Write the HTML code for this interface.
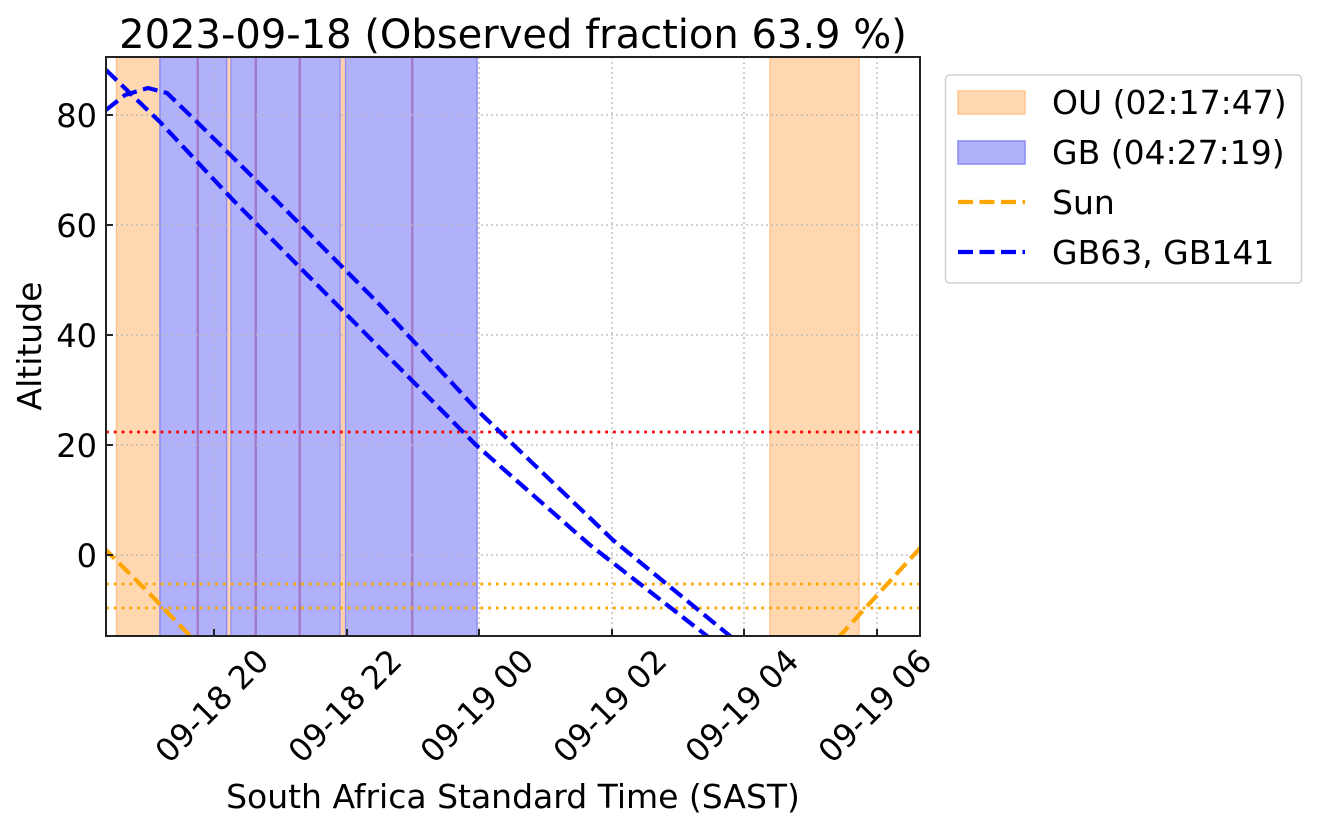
<!DOCTYPE html>
<html><head><meta charset="utf-8"><style>
html,body{margin:0;padding:0;background:#fff;}
svg{display:block;font-family:"DejaVu Sans","Liberation Sans",sans-serif;}
</style></head><body>
<svg width="1317" height="829" viewBox="0 0 1317 829" xmlns="http://www.w3.org/2000/svg">
<rect width="1317" height="829" fill="#fff"/>
<defs><clipPath id="c"><rect x="106" y="57" width="814" height="579"/></clipPath></defs>
<g clip-path="url(#c)">
<rect x="116.5" y="57" width="43.5" height="579" fill="#ffd7b0" stroke="#ffc58f" stroke-width="1.5"/>
<rect x="770" y="57" width="89" height="579" fill="#ffd7b0" stroke="#ffc58f" stroke-width="1.5"/>
<rect x="160" y="57" width="317" height="579" fill="#b1b1fb" stroke="#8a8af5" stroke-width="1.5"/>
<g fill="#ffd0b0">
<rect x="227.5" y="57" width="3" height="579"/>
<rect x="340.5" y="57" width="4.5" height="579"/>
</g>
<g fill="#a27cc8">
<rect x="196.5" y="57" width="2.5" height="579"/>
<rect x="254.5" y="57" width="2.5" height="579"/>
<rect x="298.5" y="57" width="2.5" height="579"/>
<rect x="411" y="57" width="2.5" height="579"/>
</g>
<g stroke="#8a8af5" stroke-width="1.2">
<line x1="226.5" y1="57" x2="226.5" y2="636"/><line x1="231" y1="57" x2="231" y2="636"/>
<line x1="340" y1="57" x2="340" y2="636"/><line x1="345.5" y1="57" x2="345.5" y2="636"/>
</g>
<g stroke="#b8b8b8" stroke-width="1.3" stroke-dasharray="2,3">
<line x1="214" y1="57" x2="214" y2="636"/><line x1="347" y1="57" x2="347" y2="636"/>
<line x1="479" y1="57" x2="479" y2="636"/><line x1="612" y1="57" x2="612" y2="636"/>
<line x1="744" y1="57" x2="744" y2="636"/><line x1="877" y1="57" x2="877" y2="636"/>
<line x1="106" y1="115" x2="920" y2="115"/><line x1="106" y1="225" x2="920" y2="225"/>
<line x1="106" y1="335" x2="920" y2="335"/><line x1="106" y1="445" x2="920" y2="445"/>
<line x1="106" y1="555" x2="920" y2="555"/>
</g>
<line x1="106" y1="432" x2="920" y2="432" stroke="#f00" stroke-width="2.8" stroke-dasharray="2.8,5"/>
<line x1="106" y1="584" x2="920" y2="584" stroke="#ffa500" stroke-width="2.8" stroke-dasharray="2.8,5"/>
<line x1="106" y1="608" x2="920" y2="608" stroke="#ffa500" stroke-width="2.8" stroke-dasharray="2.8,5"/>
<g fill="none" stroke="#ffa500" stroke-width="4.2" stroke-dasharray="15,6.5">
<polyline points="104,548 150,594 192,638"/>
<polyline points="838,638 880,592 922,546"/>
</g>
<g fill="none" stroke="#0000ff" stroke-width="4.2" stroke-dasharray="15,6.5">
<polyline points="106,70 160,122 233,200 350,318 476,445 590,545 707,636 712,640"/>
<polyline points="106,110 125,95 148,88 167,93 197,122 273,197 380,305 477,410 613,540 730,636 735,640"/>
</g>
</g>
<rect x="106" y="57" width="814" height="579" fill="none" stroke="#222" stroke-width="2"/>
<g stroke="#222" stroke-width="2">
<line x1="214" y1="636" x2="214" y2="629"/><line x1="347" y1="636" x2="347" y2="629"/>
<line x1="479" y1="636" x2="479" y2="629"/><line x1="612" y1="636" x2="612" y2="629"/>
<line x1="744" y1="636" x2="744" y2="629"/><line x1="877" y1="636" x2="877" y2="629"/>
<line x1="106" y1="115" x2="113" y2="115"/><line x1="106" y1="225" x2="113" y2="225"/>
<line x1="106" y1="335" x2="113" y2="335"/><line x1="106" y1="445" x2="113" y2="445"/>
<line x1="106" y1="555" x2="113" y2="555"/>
</g>
<g font-size="32" fill="#000" text-anchor="end">
<text x="97" y="127">80</text><text x="97" y="237">60</text><text x="97" y="347">40</text>
<text x="97" y="457">20</text><text x="97" y="567">0</text>
</g>
<g font-size="32" fill="#000" text-anchor="middle" dominant-baseline="central">
<text transform="translate(212,706) rotate(-45)">09-18 20</text>
<text transform="translate(345,706) rotate(-45)">09-18 22</text>
<text transform="translate(477,706) rotate(-45)">09-19 00</text>
<text transform="translate(610,706) rotate(-45)">09-19 02</text>
<text transform="translate(742,706) rotate(-45)">09-19 04</text>
<text transform="translate(875,706) rotate(-45)">09-19 06</text>
</g>
<text x="513" y="48" font-size="40" text-anchor="middle">2023-09-18 (Observed fraction 63.9 %)</text>
<text x="513" y="808" font-size="33" text-anchor="middle">South Africa Standard Time (SAST)</text>
<text transform="translate(41,346) rotate(-90)" font-size="33" text-anchor="middle">Altitude</text>
<rect x="945.5" y="75" width="356" height="208" rx="4" fill="#fff" stroke="#d0d0d0" stroke-width="1.5"/>
<rect x="958" y="91" width="67" height="23" fill="#ffd7b0" stroke="#ffc58f" stroke-width="1.5"/>
<rect x="958" y="141" width="67" height="23" fill="#b1b1fb" stroke="#8a8af5" stroke-width="1.5"/>
<line x1="958" y1="202" x2="1025" y2="202" stroke="#ffa500" stroke-width="4.2" stroke-dasharray="15,6.5"/>
<line x1="958" y1="252" x2="1025" y2="252" stroke="#0000ff" stroke-width="4.2" stroke-dasharray="15,6.5"/>
<g font-size="33" fill="#000">
<text x="1052" y="114">OU (02:17:47)</text>
<text x="1052" y="164">GB (04:27:19)</text>
<text x="1052" y="214">Sun</text>
<text x="1052" y="264">GB63, GB141</text>
</g>
</svg>
</body></html>
